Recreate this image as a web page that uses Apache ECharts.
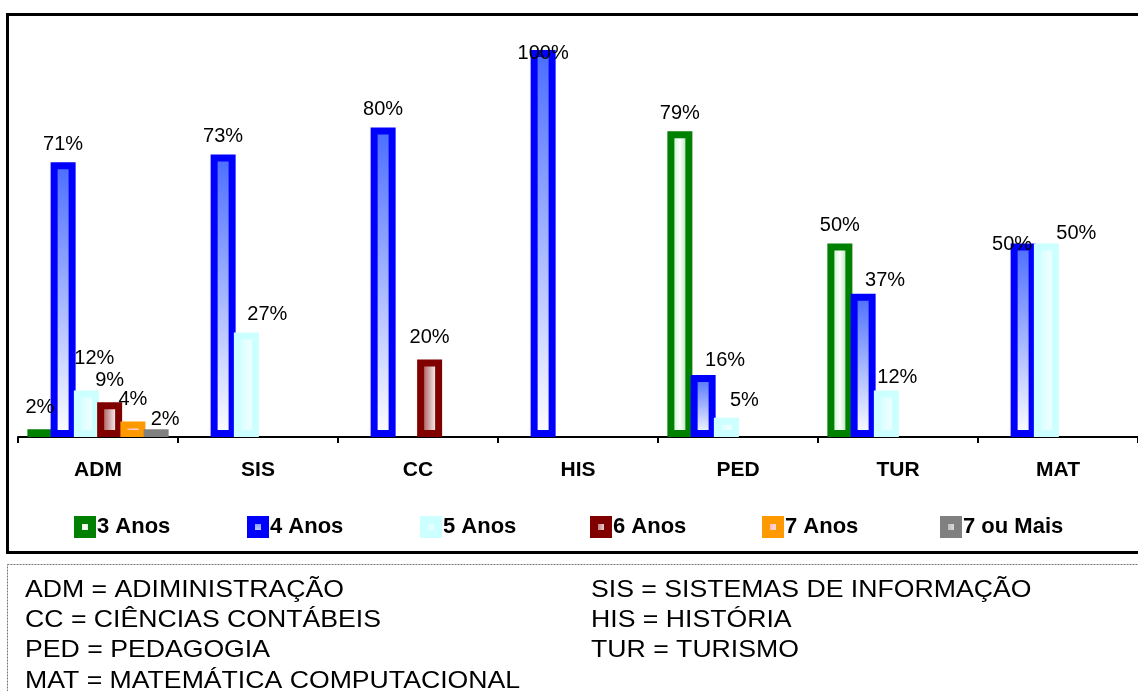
<!DOCTYPE html>
<html>
<head>
<meta charset="utf-8">
<script src="https://cdn.jsdelivr.net/npm/echarts@6/dist/echarts.min.js"></script>
<style>
html,body{margin:0;padding:0;background:#fff;}
#chart{width:1138px;height:691px;}
</style>
</head>
<body>
<div id="chart"></div>
<script>
var categories = ['ADM', 'SIS', 'CC', 'HIS', 'PED', 'TUR', 'MAT'];
var seriesNames = ['3 Anos', '4 Anos', '5 Anos', '6 Anos', '7 Anos', '7 ou Mais'];
var anos3    = [2,    null, null, null, 79,   50,   null];
var anos4    = [71,   73,   80,   100,  16,   37,   50];
var anos5    = [12,   27,   null, null, 5,    12,   50];
var anos6    = [9,    null, 20,   null, null, null, null];
var anos7    = [4,    null, null, null, null, null, null];
var anos7mais= [2,    null, null, null, null, null, null];
var seriesValues = [anos3, anos4, anos5, anos6, anos7, anos7mais];
var legendLines = [
  ['ADM = ADIMINISTRAÇÃO', 'SIS = SISTEMAS DE INFORMAÇÃO'],
  ['CC = CIÊNCIAS CONTÁBEIS', 'HIS = HISTÓRIA'],
  ['PED = PEDAGOGIA', 'TUR = TURISMO'],
  ['MAT = MATEMÁTICA COMPUTACIONAL', '']
];

// label placement tweaks (series index, category index) -> [dx, dy] in px
var labelNudge = {
  '0,0': [0, -4],
  '2,0': [8, -14], '3,0': [0, -4], '4,0': [0, -4], '5,0': [9, 8],
  '2,1': [21, 0],
  '3,2': [0, -4],
  '1,3': [0, 21],
  '1,4': [22, 3], '2,4': [18, 1],
  '1,5': [22, 5], '2,5': [11, 5],
  '1,6': [-11, 19], '2,6': [30, 8]
};
var legendLeft = [69, 242, 415, 585, 757, 935];

function lg(x2, y2, stops) {
  return new echarts.graphic.LinearGradient(0, 0, x2, y2, stops.map(function (s) { return {offset: s[0], color: s[1]}; }));
}
var styles = [
  {border: '#008000', fill: lg(1, 0, [[0, '#9be89b'], [0.5, '#ffffff'], [1, '#6fcf6f']])},
  {border: '#0000ff', fill: lg(0, 1, [[0, '#4a6cff'], [1, '#ffffff']])},
  {border: '#ccffff', fill: lg(1, 0, [[0, '#ccffff'], [1, '#ffffff']])},
  {border: '#800000', fill: lg(1, 0, [[0, '#8a1a1a'], [0.8, '#ffffff'], [1, '#ffffff']])},
  {border: '#ff9900', fill: lg(1, 0, [[0, '#ff9999'], [1, '#ffffff']])},
  {border: '#808080', fill: lg(1, 0, [[0, '#999999'], [1, '#ffffff']])}
];

var FONT = '"Liberation Sans", Arial, sans-serif';
var chart = echarts.init(document.getElementById('chart'), null, {renderer: 'canvas'});

var series = seriesNames.map(function (name, i) {
  return {
    name: name,
    type: 'bar',
    data: seriesValues[i].map(function (v, j) {
      var n = labelNudge[i + ',' + j];
      return n ? {value: v, label: {offset: n}} : v;
    }),
    barWidth: 25,
    barGap: '-7%',
    itemStyle: {color: styles[i].fill, borderColor: styles[i].border, borderWidth: 7},
    label: {
      show: true, position: 'top', distance: 8,
      formatter: '{c}%', color: '#000', fontSize: 20, fontFamily: FONT
    },
    animation: false
  };
});

var legends = seriesNames.map(function (n, i) {
  return {
    data: [{name: n, itemStyle: {color: styles[i].fill, borderColor: styles[i].border, borderWidth: 8}}],
    left: legendLeft[i], top: 511,
    itemWidth: 14, itemHeight: 14,
    icon: 'rect',
    selectedMode: false,
    textStyle: {fontSize: 22, fontWeight: 'bold', color: '#000', fontFamily: FONT}
  };
});

var graphics = [
  {type: 'rect', shape: {x: 7.5, y: 14.5, width: 1140, height: 538}, style: {fill: null, stroke: '#000', lineWidth: 3}, z: 0},
  {type: 'rect', shape: {x: 7.5, y: 564.5, width: 1140, height: 140}, style: {fill: null, stroke: '#777', lineWidth: 1, lineDash: [2, 1]}, z: 0}
];
var lineY = [590, 620, 650, 681];
legendLines.forEach(function (row, r) {
  [25, 591].forEach(function (x, c) {
    if (row[c]) {
      graphics.push({type: 'text', x: x, y: lineY[r], scaleX: 1.11,
        style: {text: row[c], fontSize: 24, fontFamily: FONT, fill: '#000', verticalAlign: 'middle', align: 'left'}});
    }
  });
});

chart.setOption({
  backgroundColor: '#fff',
  animation: false,
  grid: {left: 18, right: 0, top: 50, bottom: 254, containLabel: false},
  legend: legends,
  xAxis: {
    type: 'category', data: categories,
    axisLine: {lineStyle: {color: '#000', width: 2}},
    axisTick: {show: true, length: 6, lineStyle: {color: '#000', width: 2}},
    axisLabel: {fontSize: 21, fontWeight: 'bold', color: '#000', fontFamily: FONT, margin: 23}
  },
  yAxis: {
    type: 'value', min: 0, max: 100, show: false, splitLine: {show: false}
  },
  series: series,
  graphic: graphics
});
</script>
</body>
</html>
